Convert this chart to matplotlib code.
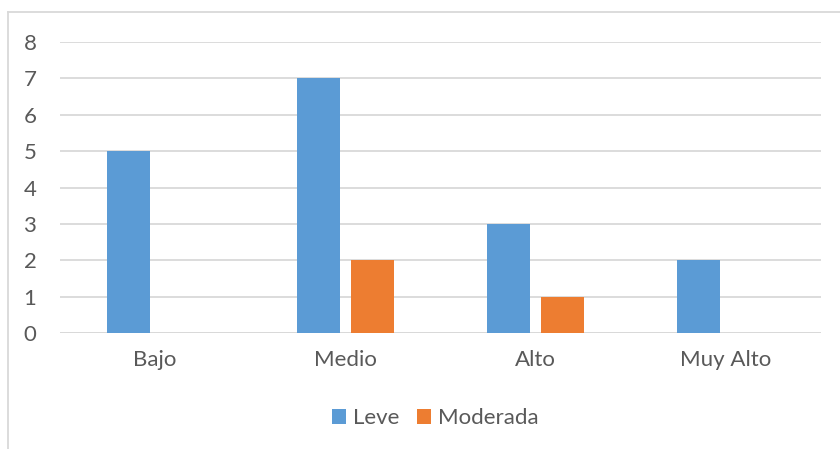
import matplotlib.pyplot as plt
import numpy as np
from matplotlib.lines import Line2D

plt.rcParams['font.family'] = ['Lato', 'DejaVu Sans']

categorias = ['Bajo', 'Medio', 'Alto', 'Muy Alto']
leve = [5, 7, 3, 2]
moderada = [0, 2, 1, 0]

azul = '#5B9BD5'
naranja = '#ED7D31'
gris_texto = '#595959'
gris_linea = '#D9D9D9'

W, H = 840, 449
fig = plt.figure(figsize=(W / 100, H / 100), dpi=100)
ax = fig.add_axes([60 / W, 1 - 333 / H, (821 - 60) / W, (333 - 42) / H])

x = np.arange(len(categorias))
ancho = 0.226
ax.bar(x - 0.142, leve, ancho, color=azul, label='Leve', zorder=3)
ax.bar(x + 0.142, moderada, ancho, color=naranja, label='Moderada', zorder=3)

ax.set_xlim(-0.5, len(categorias) - 0.5)
ax.set_ylim(0, 8)
ax.set_yticks(range(0, 9))
ax.yaxis.grid(True, color=gris_linea, linewidth=1.3, zorder=0)
ax.set_axisbelow(True)
for s in ax.spines.values():
    s.set_visible(False)
ax.axhline(0, color=gris_linea, linewidth=1.3, zorder=2)

ax.set_xticks(x)
ax.set_xticklabels(categorias)
ax.tick_params(axis='both', length=0, labelsize=16, colors=gris_texto)
ax.tick_params(axis='x', pad=12)
ax.tick_params(axis='y', pad=17)

ax.legend(loc='center', bbox_to_anchor=(0.518, 1 - 418 / H), bbox_transform=fig.transFigure,
          ncol=2, frameon=False, fontsize=16, labelcolor=gris_texto,
          handlelength=0.65, handleheight=0.65, handletextpad=0.3, columnspacing=0.8)

# marco del gráfico
fig.add_artist(Line2D([8 / W, 8 / W], [0, 1 - 12 / H], color=gris_linea, linewidth=1.3))
fig.add_artist(Line2D([8 / W, 1], [1 - 12 / H, 1 - 12 / H], color=gris_linea, linewidth=1.3))

fig.savefig('out.png', dpi=100)
